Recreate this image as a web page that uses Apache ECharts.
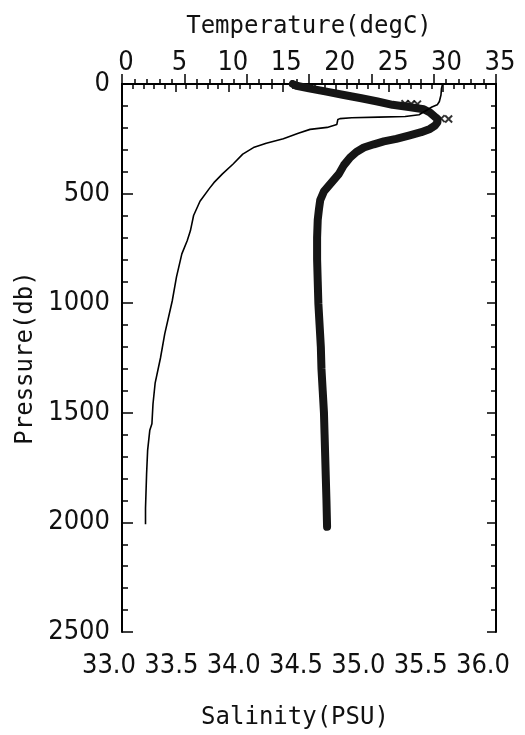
<!DOCTYPE html>
<html>
<head>
<meta charset="utf-8">
<script src="https://cdn.jsdelivr.net/npm/echarts@6/dist/echarts.min.js"></script>
<style>
html,body{margin:0;padding:0;background:#fff;}
#chart{width:525px;height:735px;}
</style>
</head>
<body>
<div id="chart"></div>
<script>
// Pressure (db) and salinity (PSU) profile
var salPressure = [0, 8, 20, 35, 50, 65, 80, 95, 105, 115, 130, 145, 160, 175, 190, 205, 220, 235, 250, 262, 275, 290, 310, 335, 370, 410, 450, 490, 530, 570, 620, 700, 800, 900, 1000, 1100, 1200, 1300, 1400, 1500, 1600, 1700, 1800, 1900, 2020];
var salinity = [34.37, 34.40, 34.50, 34.64, 34.78, 34.92, 35.05, 35.17, 35.30, 35.42, 35.47, 35.50, 35.53, 35.53, 35.51, 35.47, 35.40, 35.30, 35.20, 35.10, 35.02, 34.94, 34.88, 34.83, 34.78, 34.74, 34.68, 34.62, 34.59, 34.58, 34.57, 34.565, 34.565, 34.57, 34.575, 34.585, 34.595, 34.60, 34.61, 34.62, 34.625, 34.63, 34.635, 34.64, 34.645];
// scattered salinity crosses
var salOutPressure = [90, 91, 92, 158, 160];
var salOutValue = [35.27, 35.32, 35.37, 35.56, 35.62];
// Temperature profile
var tempPressure = [0, 20, 50, 80, 95, 105, 120, 140, 148, 151, 154, 158, 162, 185, 198, 207, 225, 250, 270, 290, 320, 365, 410, 450, 475, 535, 600, 670, 715, 775, 880, 990, 1140, 1250, 1365, 1460, 1550, 1580, 1670, 1780, 1935, 2008];
var temperature = [30.0, 29.9, 29.85, 29.7, 29.5, 29.0, 28.5, 27.8, 26.5, 24.0, 21.5, 20.4, 20.2, 20.1, 19.2, 17.6, 16.5, 15.1, 13.5, 12.3, 11.3, 10.4, 9.4, 8.6, 8.2, 7.3, 6.7, 6.4, 6.1, 5.6, 5.1, 4.7, 4.0, 3.6, 3.1, 2.9, 2.8, 2.6, 2.4, 2.3, 2.2, 2.2];

var salTicks = [33.0, 33.5, 34.0, 34.5, 35.0, 35.5, 36.0];
var tempTicks = [0, 5, 10, 15, 20, 25, 30, 35];
var pressTicks = [0, 500, 1000, 1500, 2000, 2500];

function zip(xs, ys) { return xs.map(function (x, i) { return [x, ys[i]]; }); }

var tickFont = '"Liberation Sans Narrow","DejaVu Sans Condensed","Liberation Sans",sans-serif';
var titleFont = '"DejaVu Sans Mono","Liberation Mono",monospace';
var lineStyle = { color: '#000', width: 2 };

var chart = echarts.init(document.getElementById('chart'), null, { renderer: 'canvas' });
chart.setOption({
  animation: false,
  backgroundColor: '#fff',
  grid: { left: 122, right: 29, top: 84, bottom: 103, containLabel: false },
  xAxis: [
    {
      type: 'value', position: 'bottom', min: salTicks[0], max: salTicks[salTicks.length - 1], interval: 0.5,
      name: 'Salinity(PSU)', nameLocation: 'middle', nameGap: 74,
      nameTextStyle: { fontFamily: titleFont, fontSize: 24, color: '#111', padding: [0, 28, 0, 0] },
      axisLine: { show: true, lineStyle: lineStyle },
      axisTick: { show: true, inside: true, length: 10, lineStyle: { color: '#000', width: 1.5 } },
      minorTick: { show: true, splitNumber: 5, length: 5, lineStyle: { color: '#000', width: 1.5 } },
      splitLine: { show: false },
      axisLabel: { margin: 20, fontFamily: tickFont, fontSize: 27, color: '#111', padding: [0, 26, 0, 0],
        formatter: function (v) { return v.toFixed(1); } }
    },
    {
      type: 'value', position: 'top', min: tempTicks[0], max: tempTicks[tempTicks.length - 1], interval: 5,
      name: 'Temperature(degC)', nameLocation: 'middle', nameGap: 45,
      nameTextStyle: { fontFamily: titleFont, fontSize: 24, color: '#111' },
      axisLine: { show: true, lineStyle: lineStyle },
      axisTick: { show: true, inside: true, length: 8, lineStyle: { color: '#000', width: 1.5 } },
      minorTick: { show: true, splitNumber: 5, length: 5, lineStyle: { color: '#000', width: 1.5 } },
      splitLine: { show: false },
      axisLabel: { margin: 8, fontFamily: tickFont, fontSize: 27, color: '#111', padding: [0, 0, 0, 8] }
    }
  ],
  yAxis: [
    {
      type: 'value', position: 'left', inverse: true, min: pressTicks[0], max: pressTicks[pressTicks.length - 1], interval: 500,
      name: 'Pressure(db)', nameLocation: 'middle', nameGap: 68, nameRotate: 90,
      nameTextStyle: { fontFamily: titleFont, fontSize: 24, color: '#111' },
      axisLine: { show: true, lineStyle: lineStyle },
      axisTick: { show: true, inside: true, length: 11, lineStyle: { color: '#000', width: 1.5 } },
      minorTick: { show: true, splitNumber: 5, length: 6, lineStyle: { color: '#000', width: 1.5 } },
      splitLine: { show: false },
      axisLabel: { margin: 12, fontFamily: tickFont, fontSize: 27, color: '#111',
        formatter: function (v) { return String(v); } }
    },
    {
      type: 'value', position: 'right', inverse: true, min: pressTicks[0], max: pressTicks[pressTicks.length - 1], interval: 500,
      axisLine: { show: true, lineStyle: lineStyle },
      axisTick: { show: true, inside: true, length: 9, lineStyle: { color: '#000', width: 1.5 } },
      minorTick: { show: true, splitNumber: 5, length: 5, lineStyle: { color: '#000', width: 1.5 } },
      splitLine: { show: false },
      axisLabel: { show: false }
    }
  ],
  series: [
    {
      name: 'Salinity', type: 'line', xAxisIndex: 0, yAxisIndex: 0,
      data: zip(salinity, salPressure), showSymbol: false, smooth: false,
      lineStyle: { color: '#151515', width: 8, cap: 'round', join: 'round' }
    },
    {
      name: 'SalinityCross', type: 'scatter', xAxisIndex: 0, yAxisIndex: 0,
      data: zip(salOutValue, salOutPressure),
      symbol: 'path://M0,0L10,10M10,0L0,10', symbolSize: 7,
      itemStyle: { color: 'none', borderColor: '#000', borderWidth: 2 }
    },
    {
      name: 'Temperature', type: 'line', xAxisIndex: 1, yAxisIndex: 0,
      data: zip(temperature, tempPressure), showSymbol: false,
      lineStyle: { color: '#000', width: 1.6 }
    }
  ]
});
</script>
</body>
</html>
